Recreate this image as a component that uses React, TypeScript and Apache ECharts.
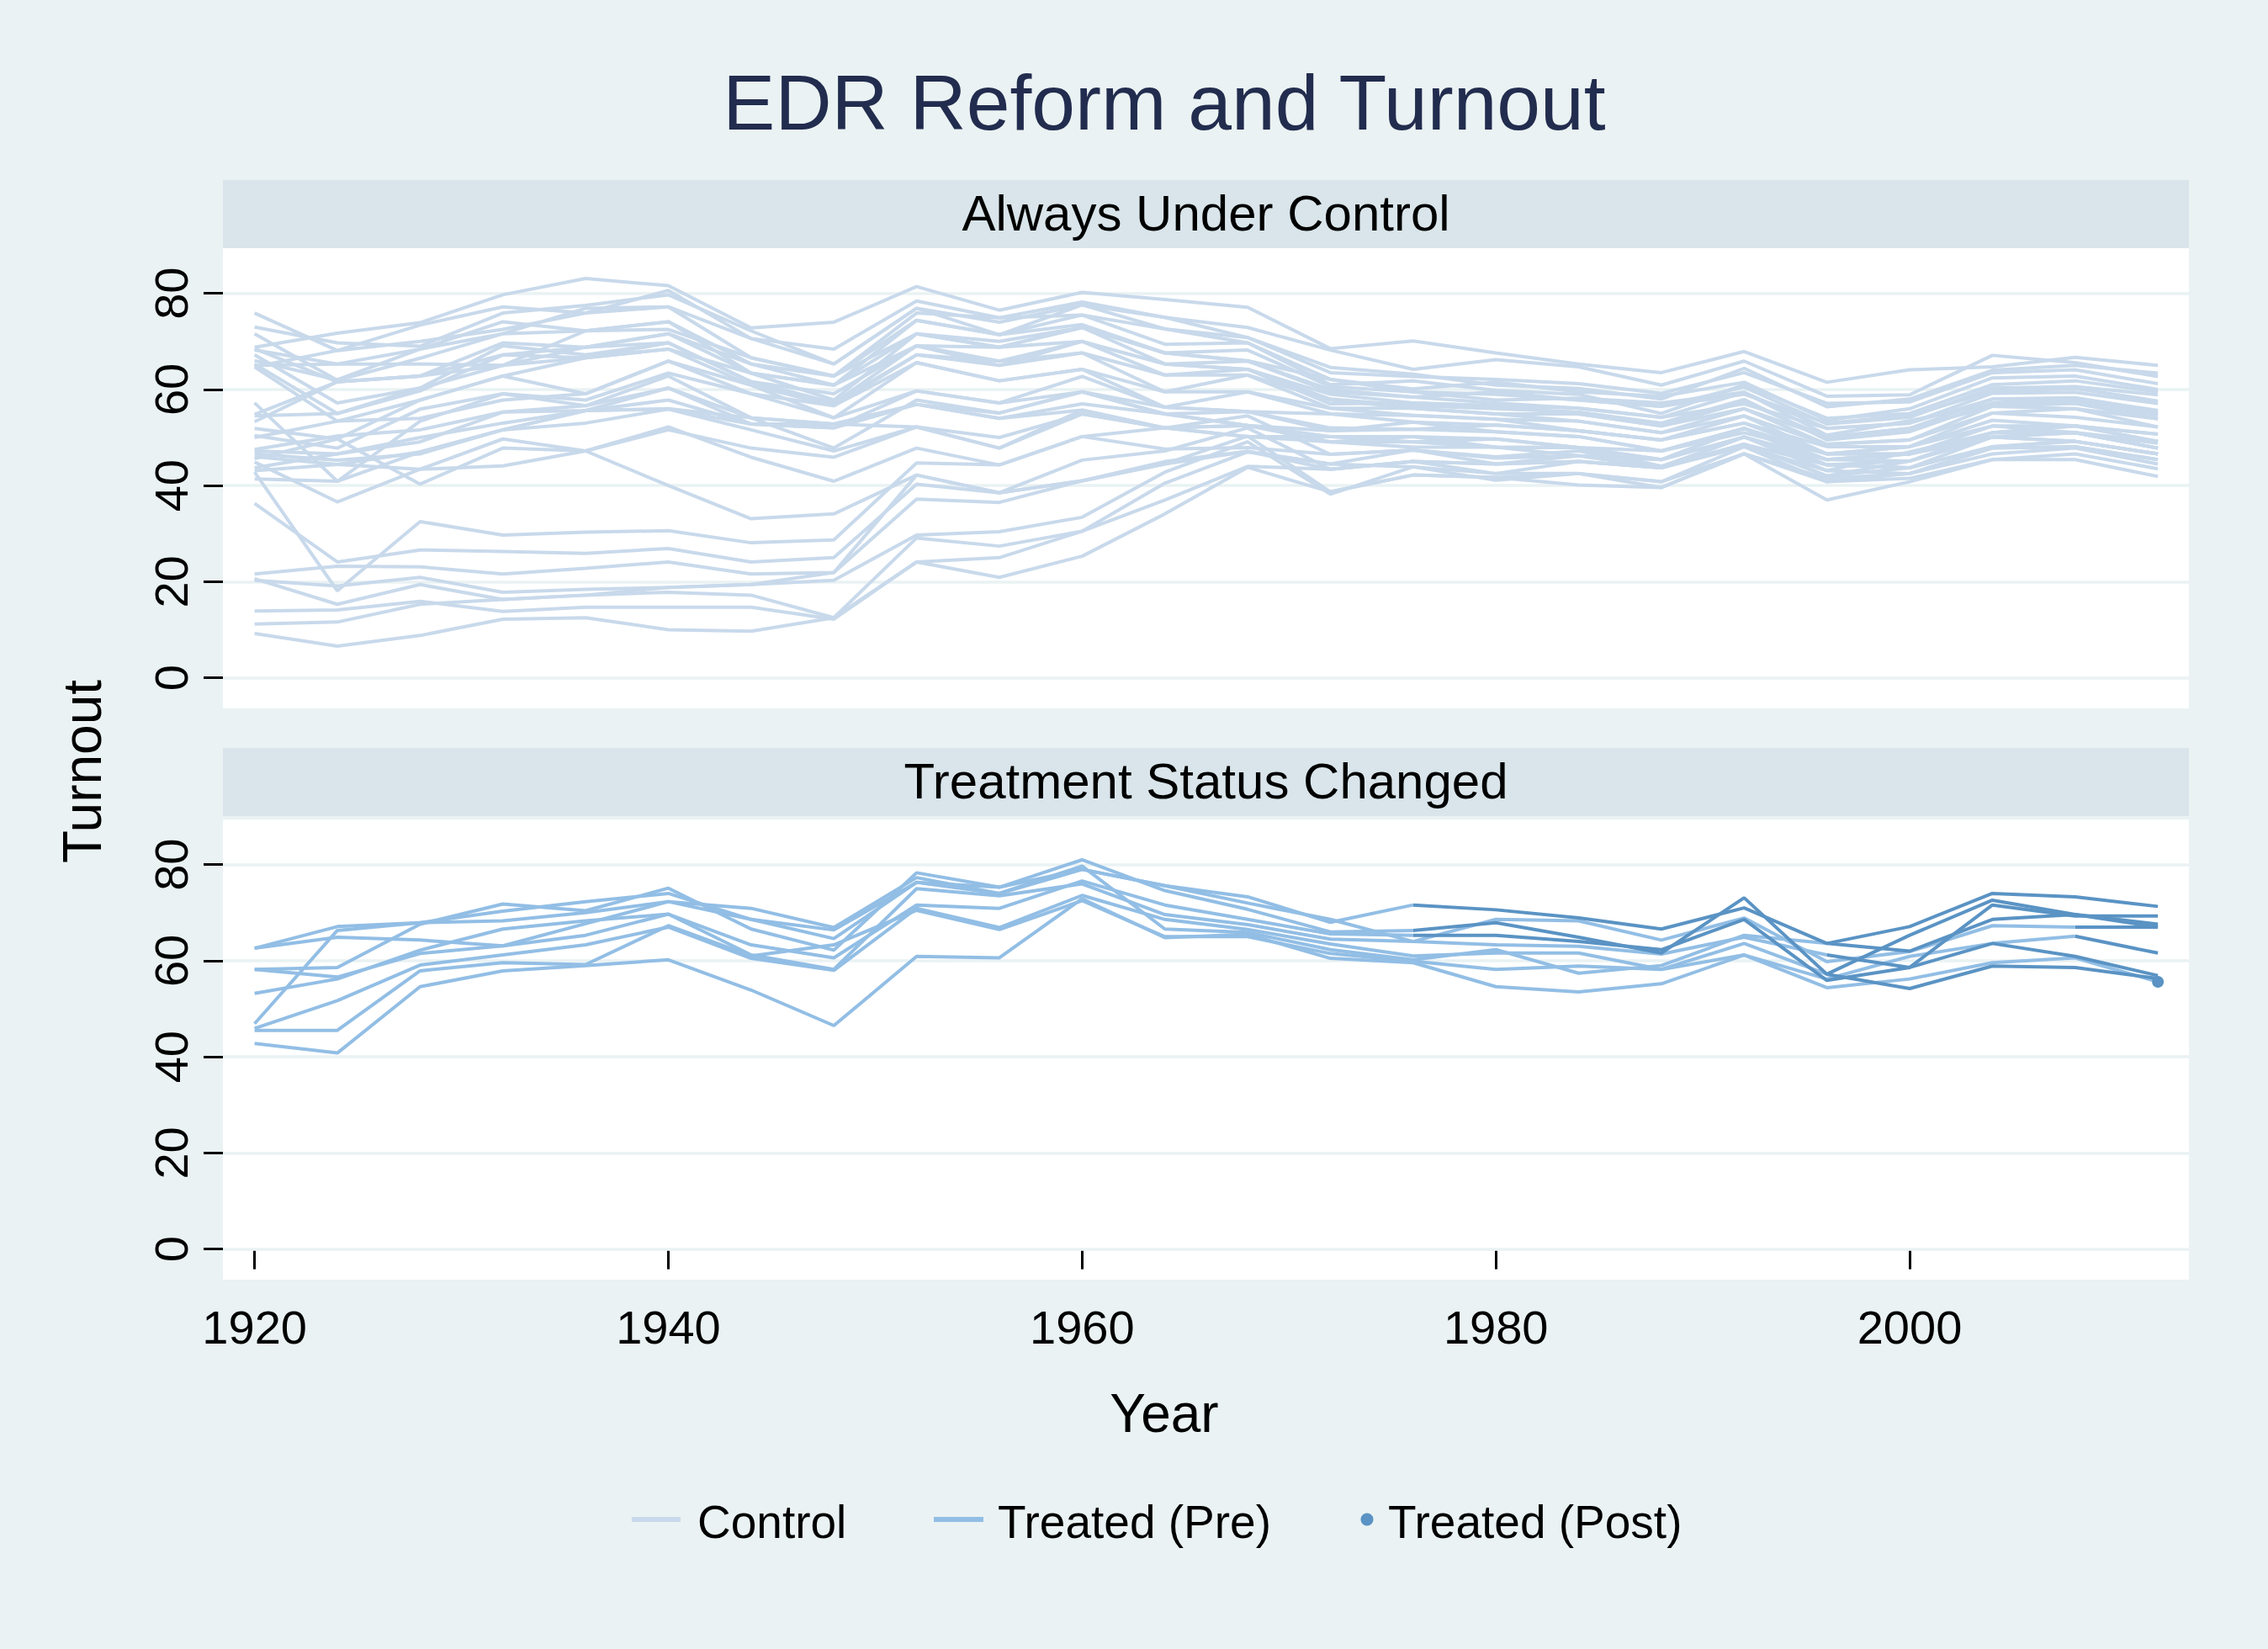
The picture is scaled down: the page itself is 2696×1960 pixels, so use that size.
import React, { useEffect, useRef } from "react";
import * as echarts from "echarts";

const YEARS = [1920, 1924, 1928, 1932, 1936, 1940, 1944, 1948, 1952, 1956, 1960, 1964, 1968, 1972, 1976, 1980, 1984, 1988, 1992, 1996, 2000, 2004, 2008, 2012];
const Y_TICKS = [0, 20, 40, 60, 80];
const X_TICKS = [1920, 1940, 1960, 1980, 2000];

// Always-under-control states (turnout %, 1920..2012)
const N1 = [68.8, 71.7, 73.9, 79.7, 83.1, 81.6, 72.8, 74.0, 81.4, 76.5, 80.2, 78.7, 77.1, 68.5, 70.1, 67.6, 65.3, 63.5, 67.9, 61.5, 64.1, 64.7, 66.7, 65.0];
const N2 = [75.9, 68.1, 73.4, 77.2, 75.9, 80.6, 70.6, 68.4, 78.4, 74.9, 78.2, 75.0, 72.9, 68.2, 64.2, 66.2, 64.7, 60.9, 65.9, 58.6, 58.9, 67.1, 65.6, 62.7];
const N3 = [73.0, 69.7, 69.0, 75.9, 77.5, 79.7, 72.2, 65.3, 76.9, 71.4, 77.6, 72.6, 70.8, 63.5, 62.7, 62.1, 61.2, 59.2, 63.5, 57.1, 57.4, 63.5, 64.1, 61.2];
const N4 = [71.6, 61.9, 66.5, 71.6, 76.9, 77.2, 66.6, 62.8, 75.9, 74.9, 75.5, 69.4, 69.7, 62.1, 60.1, 61.5, 59.5, 58.6, 61.5, 53.6, 56.0, 62.4, 62.8, 60.0];
const N5 = [68.2, 65.3, 68.4, 74.1, 72.2, 74.1, 65.3, 60.9, 74.4, 71.4, 73.5, 67.6, 68.2, 60.6, 59.5, 59.0, 57.8, 56.5, 60.5, 52.8, 54.2, 60.3, 60.6, 58.9];
const N6 = [68.5, 61.6, 62.8, 69.7, 68.8, 71.6, 63.4, 57.8, 71.6, 68.8, 72.9, 65.3, 65.9, 59.5, 58.4, 57.2, 56.1, 54.2, 59.4, 51.9, 53.0, 59.2, 59.4, 57.1];
const N7 = [67.2, 57.2, 60.3, 69.1, 67.2, 69.7, 61.6, 57.2, 69.1, 65.9, 70.0, 63.0, 64.2, 57.0, 57.2, 56.6, 54.9, 52.4, 57.4, 50.1, 51.9, 58.0, 58.3, 55.6];
const N8 = [65.3, 55.0, 59.7, 67.2, 66.6, 68.4, 60.9, 56.6, 67.2, 65.0, 67.6, 59.5, 63.0, 56.1, 56.1, 54.9, 53.4, 51.0, 56.0, 48.6, 49.5, 56.5, 57.1, 53.9];
const N9 = [65.0, 65.3, 65.3, 65.0, 72.2, 74.1, 63.4, 60.9, 71.6, 70.0, 72.9, 67.6, 66.0, 62.1, 59.5, 57.8, 58.2, 57.2, 59.4, 50.5, 53.5, 57.0, 58.0, 55.0];
const N10 = [64.7, 53.4, 57.8, 62.8, 59.1, 65.9, 59.1, 54.1, 65.6, 61.8, 64.2, 56.3, 59.5, 54.9, 54.6, 53.8, 51.4, 49.5, 54.5, 46.6, 48.1, 55.1, 56.0, 52.2];
const N11 = [64.7, 68.1, 70.0, 72.5, 75.9, 77.2, 70.6, 65.3, 76.9, 74.0, 77.6, 75.0, 70.8, 64.6, 63.2, 60.9, 60.2, 58.0, 64.4, 56.4, 58.0, 64.0, 65.0, 63.4];
const N12 = [66.0, 62.0, 68.4, 71.6, 72.2, 72.5, 66.6, 62.8, 74.4, 71.4, 75.5, 72.6, 69.7, 61.0, 61.8, 59.8, 59.0, 55.0, 61.0, 54.0, 55.0, 61.0, 61.8, 59.5];
const N13 = [54.8, 61.6, 62.8, 67.2, 68.8, 69.7, 61.6, 59.1, 69.1, 68.8, 70.0, 65.3, 64.2, 58.0, 56.6, 56.0, 55.3, 53.0, 57.9, 49.5, 51.2, 57.2, 57.6, 54.6];
const M1 = [57.2, 40.9, 53.4, 59.1, 56.6, 60.3, 54.1, 47.8, 57.8, 55.1, 59.5, 54.9, 55.4, 51.4, 53.2, 51.2, 50.2, 47.2, 51.9, 44.3, 45.1, 51.0, 52.4, 49.2];
const M2 = [54.5, 55.0, 60.3, 65.0, 68.8, 71.6, 65.3, 62.8, 71.6, 68.8, 72.9, 67.6, 65.9, 60.0, 58.4, 59.5, 57.8, 56.5, 59.0, 53.0, 54.6, 59.6, 60.2, 57.6];
const M3 = [53.3, 61.6, 62.8, 65.0, 66.6, 68.4, 63.4, 60.9, 69.1, 65.0, 70.0, 65.3, 64.2, 59.0, 57.2, 56.6, 56.1, 54.2, 57.0, 51.9, 53.0, 58.0, 57.1, 55.6];
const M4 = [51.9, 49.7, 57.8, 62.8, 66.6, 69.7, 61.6, 57.2, 67.2, 65.9, 67.6, 63.0, 63.0, 57.8, 56.1, 54.9, 54.9, 52.4, 56.0, 50.1, 51.9, 56.5, 56.0, 53.9];
const M5 = [50.4, 47.8, 55.9, 59.1, 57.8, 63.4, 59.1, 56.6, 65.6, 61.8, 64.2, 59.5, 59.5, 56.1, 54.6, 53.8, 53.4, 51.0, 54.5, 48.6, 49.5, 55.1, 54.2, 52.2];
const M6 = [50.0, 53.4, 54.0, 57.8, 59.1, 65.9, 60.9, 54.1, 59.7, 57.2, 62.7, 56.3, 55.4, 54.9, 53.2, 52.6, 51.4, 49.5, 53.0, 48.1, 48.1, 53.6, 52.4, 50.7];
const M7 = [47.5, 50.3, 51.6, 55.3, 56.6, 62.8, 54.1, 52.8, 56.9, 55.1, 59.5, 54.9, 52.5, 51.4, 51.7, 51.2, 50.2, 47.2, 51.0, 46.6, 46.6, 52.4, 51.0, 49.2];
const M8 = [47.2, 46.6, 49.1, 55.3, 55.6, 60.3, 52.8, 52.8, 52.2, 47.8, 55.7, 52.0, 50.2, 50.2, 50.2, 49.7, 47.9, 45.4, 50.1, 45.4, 45.1, 51.0, 51.0, 47.8];
const M9 = [46.6, 45.3, 46.6, 51.6, 55.6, 55.9, 51.6, 47.2, 52.2, 47.8, 54.9, 52.0, 50.2, 49.1, 49.1, 48.0, 47.9, 44.0, 48.6, 44.3, 43.7, 50.1, 49.2, 46.6];
const M10 = [46.0, 44.4, 43.4, 44.1, 47.2, 52.2, 45.9, 40.9, 47.8, 44.3, 50.2, 47.6, 47.9, 46.5, 47.4, 45.7, 46.2, 43.7, 48.1, 43.1, 42.5, 47.8, 48.1, 45.4];
const M11 = [45.6, 49.7, 40.3, 47.8, 47.2, 40.0, 33.1, 34.1, 42.2, 38.5, 41.0, 45.0, 47.1, 43.4, 45.0, 44.5, 45.0, 43.7, 48.6, 42.0, 43.7, 48.1, 49.2, 46.6];
const M12 = [44.9, 36.6, 43.4, 49.7, 47.2, 51.6, 47.8, 45.9, 52.2, 50.0, 54.9, 52.0, 52.5, 49.1, 50.2, 48.0, 47.9, 45.4, 50.1, 45.4, 46.6, 51.0, 51.0, 48.8];
const M13 = [43.7, 46.6, 50.0, 53.0, 55.6, 57.8, 52.8, 52.0, 59.7, 57.2, 59.5, 56.3, 55.4, 52.0, 51.7, 52.6, 51.4, 49.5, 53.0, 46.6, 48.1, 52.4, 52.4, 50.7];
const M14 = [43.1, 44.4, 47.0, 51.6, 55.6, 56.0, 54.1, 52.8, 56.9, 54.0, 57.0, 54.9, 52.5, 50.2, 49.1, 49.7, 47.9, 47.2, 51.9, 46.6, 46.6, 50.1, 51.0, 47.8];
const M15 = [41.4, 40.9, 47.0, 51.6, 53.0, 55.9, 52.8, 52.0, 56.9, 54.0, 55.7, 52.0, 52.5, 49.1, 48.0, 48.0, 46.2, 45.4, 51.9, 45.4, 46.6, 50.1, 49.2, 46.6];
const S0 = [42.8, 18.1, 32.5, 29.7, 30.3, 30.6, 28.1, 28.7, 44.7, 44.3, 50.2, 52.0, 54.5, 46.5, 47.4, 46.0, 47.2, 44.0, 50.1, 43.1, 47.0, 51.0, 52.4, 49.2];
const S1 = [36.3, 24.1, 26.6, 26.3, 25.9, 26.9, 24.1, 25.0, 40.3, 38.5, 45.3, 47.2, 52.0, 43.4, 45.0, 44.5, 45.0, 43.7, 48.6, 42.0, 45.1, 50.1, 51.0, 47.8];
const S2 = [21.6, 23.2, 23.1, 21.6, 22.8, 24.1, 21.6, 21.9, 37.2, 36.5, 41.0, 44.5, 50.3, 38.7, 42.2, 41.7, 40.1, 39.6, 46.6, 37.0, 40.8, 45.4, 45.4, 41.9];
const S3 = [20.3, 19.1, 20.9, 17.8, 18.4, 18.8, 19.4, 20.3, 29.7, 30.4, 33.4, 42.8, 49.1, 38.2, 43.9, 42.5, 42.5, 40.8, 48.1, 40.8, 42.5, 47.8, 48.1, 45.4];
const S4 = [20.6, 15.3, 19.4, 16.3, 17.2, 17.8, 17.2, 12.5, 29.1, 27.4, 30.5, 40.5, 47.0, 44.5, 43.9, 41.1, 42.5, 39.6, 46.6, 40.8, 41.5, 45.4, 46.6, 43.5];
const S5 = [13.9, 14.1, 15.9, 13.8, 14.7, 14.7, 14.7, 12.2, 24.1, 25.0, 30.5, 37.0, 44.0, 43.4, 45.0, 42.5, 45.0, 43.7, 50.1, 44.3, 43.7, 48.1, 49.2, 46.6];
const S6 = [11.2, 11.6, 15.3, 16.3, 17.2, 18.8, 19.4, 21.9, 42.2, 38.5, 41.0, 44.5, 47.1, 44.5, 47.4, 44.5, 46.2, 45.4, 51.9, 45.4, 46.6, 51.0, 51.0, 47.8];
const S7 = [9.2, 6.6, 8.8, 12.2, 12.5, 10.0, 9.7, 12.5, 24.1, 20.9, 25.3, 34.1, 43.8, 38.7, 42.2, 41.7, 42.5, 40.8, 46.6, 41.5, 42.5, 46.6, 47.8, 44.5];

const CONTROL_LINES = [N1, N2, N3, N4, N5, N6, N7, N8, N9, N10, N11, N12, N13, M1, M2, M3, M4, M5, M6, M7, M8, M9, M10, M11, M12, M13, M14, M15, S0, S1, S2, S3, S4, S5, S6, S7];

// States whose treatment status changed
const T1 = [62.6, 67.1, 67.9, 68.3, 70.0, 72.3, 68.6, 66.4, 76.3, 74.0, 79.0, 75.6, 73.3, 68.0, 71.6, 70.6, 68.9, 66.6, 71.0, 63.6, 67.1, 74.0, 73.3, 71.3];
const T2 = [58.2, 58.6, 67.6, 71.8, 70.4, 75.1, 66.6, 62.2, 78.3, 75.3, 81.0, 74.6, 70.7, 66.0, 66.3, 67.9, 64.9, 61.6, 73.1, 57.2, 65.3, 72.6, 69.6, 67.6];
const T3 = [62.6, 64.9, 64.3, 63.1, 65.3, 69.7, 63.3, 60.6, 71.6, 70.9, 76.6, 71.6, 68.6, 65.6, 65.3, 65.3, 64.0, 62.3, 68.6, 55.9, 58.6, 71.6, 69.3, 69.3];
const T4 = [53.2, 56.2, 62.2, 66.6, 68.3, 69.7, 61.2, 58.2, 75.0, 73.5, 76.0, 69.6, 67.5, 64.5, 64.0, 63.3, 63.0, 61.4, 64.9, 61.2, 58.6, 63.6, 60.9, 56.9];
const T5 = [45.9, 51.7, 59.1, 61.2, 63.3, 67.0, 60.5, 58.0, 70.9, 66.9, 73.6, 68.6, 66.5, 63.5, 61.0, 61.6, 61.6, 58.2, 63.6, 57.2, 54.2, 58.9, 58.6, 56.3];
const T6 = [58.2, 56.6, 61.5, 63.1, 67.7, 72.3, 70.9, 66.9, 77.3, 74.0, 79.7, 66.6, 65.9, 62.3, 60.2, 62.3, 57.4, 59.0, 65.3, 63.6, 62.0, 68.6, 69.6, 67.0];
const T7 = [46.9, 66.3, 67.9, 70.3, 72.3, 74.0, 68.6, 64.6, 76.3, 75.3, 79.0, 75.6, 72.0, 68.6, 64.0, 68.6, 68.3, 64.3, 68.9, 59.8, 61.9, 67.3, 67.0, 67.0];
const T8 = [45.5, 45.5, 57.9, 59.6, 59.2, 67.3, 61.0, 63.3, 70.5, 66.5, 72.5, 65.0, 65.0, 61.5, 59.9, 58.2, 58.9, 58.2, 61.2, 56.2, 60.9, 63.6, 65.1, 61.6];
const T9 = [42.8, 40.8, 54.6, 57.9, 59.0, 60.2, 53.9, 46.5, 60.9, 60.6, 72.9, 64.8, 65.5, 60.5, 59.6, 54.6, 53.5, 55.2, 61.2, 54.4, 56.2, 59.6, 60.6, 55.6];

const TREATED_LINES = [T1, T2, T3, T4, T5, T6, T7, T8, T9];
const TREAT_START_YEARS = [1976, 1976, 1976, 1996, 1996, 1996, 2008, 2008, 2012];

const FONT = "'Liberation Sans', Arial, Helvetica, sans-serif";
const BG = "#eaf2f3";
const STRIP = "#d9e5ea";
const GRIDLINE = "#eaf2f3";
const C_CONTROL = "#c8d9eb";
const C_PRE = "#92bee5";
const C_POST = "#5a93c4";
const LINE_W = 4;

const PLOT_LEFT = 265;
const PLOT_WIDTH = 2337;
const TOP1 = 295;
const TOP2 = 974;
const PLOT_H = 547;
const X_MIN = 1918.47;
const X_MAX = 2013.5;
const Y_MIN = -6.37;
const Y_MAX = 89.4;

export default function App() {
  const ref = useRef<HTMLDivElement>(null);

  useEffect(() => {
    if (!ref.current) return;
    const chart = echarts.init(ref.current, undefined, { renderer: "svg" });

    const gridMark = {
      silent: true,
      symbol: "none",
      z: 1,
      label: { show: false },
      lineStyle: { color: GRIDLINE, width: 3.6, type: "solid" },
      data: Y_TICKS.map((v) => ({ yAxis: v })),
    };

    const series: any[] = [];
    CONTROL_LINES.forEach((arr, k) => {
      series.push({
        type: "line",
        name: "Control",
        xAxisIndex: 0,
        yAxisIndex: 0,
        data: YEARS.map((yr, i) => [yr, arr[i]]),
        showSymbol: false,
        symbol: "none",
        silent: true,
        z: 3,
        lineStyle: { color: C_CONTROL, width: LINE_W },
        markLine: k === 0 ? gridMark : undefined,
      });
    });

    TREATED_LINES.forEach((arr, k) => {
      const s = YEARS.indexOf(TREAT_START_YEARS[k]);
      series.push({
        type: "line",
        name: "Treated (Pre)",
        xAxisIndex: 1,
        yAxisIndex: 1,
        data: YEARS.slice(0, s + 1).map((yr, i) => [yr, arr[i]]),
        showSymbol: false,
        symbol: "none",
        silent: true,
        z: 3,
        lineStyle: { color: C_PRE, width: LINE_W },
        markLine: k === 0 ? gridMark : undefined,
      });
    });
    TREATED_LINES.forEach((arr, k) => {
      const s = YEARS.indexOf(TREAT_START_YEARS[k]);
      const pts = YEARS.slice(s).map((yr, i) => [yr, arr[s + i]]);
      const single = pts.length === 1;
      series.push({
        type: "line",
        name: "Treated (Post)",
        xAxisIndex: 1,
        yAxisIndex: 1,
        data: pts,
        showSymbol: single,
        symbol: single ? "circle" : "none",
        symbolSize: 14,
        itemStyle: { color: C_POST },
        silent: true,
        z: 4,
        lineStyle: { color: C_POST, width: LINE_W },
      });
    });

    const yAxis = (gi: number) => ({
      type: "value",
      gridIndex: gi,
      min: Y_MIN,
      max: Y_MAX,
      axisLine: { show: false },
      splitLine: { show: false },
      axisTick: { show: true, length: 23, customValues: Y_TICKS, lineStyle: { color: "#000", width: 3 } },
      axisLabel: {
        show: true,
        customValues: Y_TICKS,
        rotate: 90,
        margin: 34,
        fontSize: 56,
        color: "#000",
        fontFamily: FONT,
        formatter: (v: number) => String(v),
      },
    });

    const strip = (y: number, label: string) => [
      { type: "rect", shape: { x: PLOT_LEFT, y, width: PLOT_WIDTH, height: 81 }, style: { fill: STRIP }, silent: true },
      {
        type: "text",
        x: PLOT_LEFT + PLOT_WIDTH / 2,
        y: y + 39,
        style: { text: label, fontSize: 60, fontFamily: FONT, fill: "#000", align: "center", verticalAlign: "middle" },
        silent: true,
      },
    ];

    const legendY = 1806;
    chart.setOption({
      animation: false,
      backgroundColor: BG,
      grid: [
        { left: PLOT_LEFT, top: TOP1, width: PLOT_WIDTH, height: PLOT_H, show: true, backgroundColor: "#ffffff", borderWidth: 0 },
        { left: PLOT_LEFT, top: TOP2, width: PLOT_WIDTH, height: PLOT_H, show: true, backgroundColor: "#ffffff", borderWidth: 0 },
      ],
      xAxis: [
        {
          type: "value",
          gridIndex: 0,
          min: X_MIN,
          max: X_MAX,
          axisLine: { show: false },
          axisTick: { show: false },
          axisLabel: { show: false },
          splitLine: { show: false },
        },
        {
          type: "value",
          gridIndex: 1,
          min: X_MIN,
          max: X_MAX,
          axisLine: { show: false },
          splitLine: { show: false },
          axisTick: { show: true, length: 24, customValues: X_TICKS, lineStyle: { color: "#000", width: 3 } },
          axisLabel: {
            show: true,
            customValues: X_TICKS,
            margin: 28,
            fontSize: 56,
            color: "#000",
            fontFamily: FONT,
            formatter: (v: number) => String(v),
          },
        },
      ],
      yAxis: [yAxis(0), yAxis(1)],
      series,
      graphic: [
        ...strip(214, "Always Under Control"),
        ...strip(889, "Treatment Status Changed"),
        {
          type: "text",
          x: 1384,
          y: 122,
          style: { text: "EDR Reform and Turnout", fontSize: 93, fontFamily: FONT, fill: "#222c4e", align: "center", verticalAlign: "middle" },
          silent: true,
        },
        {
          type: "text",
          x: 98,
          y: 917,
          rotation: Math.PI / 2,
          style: { text: "Turnout", fontSize: 64, fontFamily: FONT, fill: "#000", align: "center", verticalAlign: "middle" },
          silent: true,
        },
        {
          type: "text",
          x: 1384,
          y: 1680,
          style: { text: "Year", fontSize: 64, fontFamily: FONT, fill: "#000", align: "center", verticalAlign: "middle" },
          silent: true,
        },
        { type: "rect", shape: { x: 751, y: legendY - 3, width: 58, height: 6 }, style: { fill: C_CONTROL }, silent: true },
        {
          type: "text",
          x: 829,
          y: legendY + 3,
          style: { text: "Control", fontSize: 55, fontFamily: FONT, fill: "#000", align: "left", verticalAlign: "middle" },
          silent: true,
        },
        { type: "rect", shape: { x: 1110, y: legendY - 3, width: 59, height: 6 }, style: { fill: C_PRE }, silent: true },
        {
          type: "text",
          x: 1186,
          y: legendY + 3,
          style: { text: "Treated (Pre)", fontSize: 55, fontFamily: FONT, fill: "#000", align: "left", verticalAlign: "middle" },
          silent: true,
        },
        { type: "circle", shape: { cx: 1625, cy: legendY, r: 7.5 }, style: { fill: C_POST }, silent: true },
        {
          type: "text",
          x: 1650,
          y: legendY + 3,
          style: { text: "Treated (Post)", fontSize: 55, fontFamily: FONT, fill: "#000", align: "left", verticalAlign: "middle" },
          silent: true,
        },
      ],
    });

    return () => chart.dispose();
  }, []);

  return <div ref={ref} style={{ position: "fixed", left: 0, top: 0, width: 2696, height: 1960 }} />;
}
